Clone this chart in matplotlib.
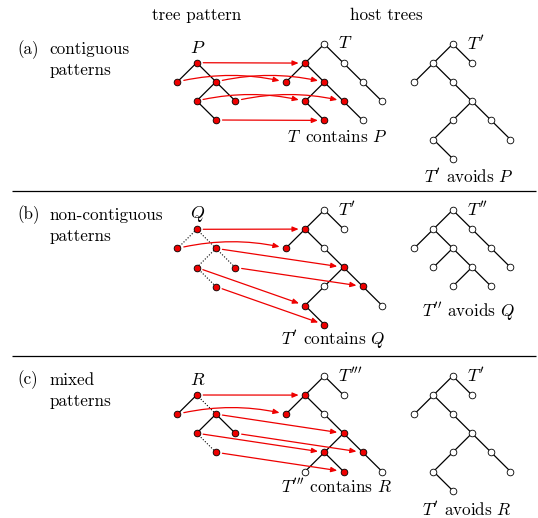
import matplotlib
matplotlib.use('Agg')
import matplotlib.pyplot as plt
from matplotlib.patches import FancyArrowPatch, ArrowStyle

plt.rcParams['mathtext.fontset'] = 'cm'
plt.rcParams['font.family'] = ['cmr10', 'DejaVu Serif']
plt.rcParams['axes.unicode_minus'] = False

# ---------------- data: tree structures ----------------
# pattern shape (shared by P, Q, R): column offset, depth, parent
PAT_COLS = [0, -1, 1, 0, 2, 1]
PAT_ROWS = [0, 1, 1, 2, 2, 3]
PAT_PARENT = [None, 0, 0, 2, 2, 3]
P_DOTTED = [False, False, False, False, False, False]
Q_DOTTED = [False, True, True, True, True, True]
R_DOTTED = [False, False, True, False, False, True]

# host tree T
T_COLS = [0, -1, 1, -2, 0, 2, -1, 1, 3, 0, 2]
T_ROWS = [0, 1, 1, 2, 2, 2, 3, 3, 3, 4, 4]
T_PARENT = [None, 0, 0, 1, 1, 2, 4, 4, 5, 6, 7]
# host tree T'
T1_COLS = [0, -1, 1, -2, 0, 1, 0, 2, -1, 3, 0]
T1_ROWS = [0, 1, 1, 2, 2, 3, 4, 4, 5, 5, 6]
T1_PARENT = [None, 0, 0, 1, 1, 4, 5, 5, 6, 7, 8]
# host tree T''
T2_COLS = [0, -1, 1, -2, 0, 2, -1, 1, 3, 0, 2]
T2_ROWS = [0, 1, 1, 2, 2, 2, 3, 3, 3, 4, 4]
T2_PARENT = [None, 0, 0, 1, 1, 2, 4, 4, 5, 7, 7]
# host tree T'''
T3_COLS = [0, -1, 1, -2, 0, 1, 0, 2, -1, 1, 3]
T3_ROWS = [0, 1, 1, 2, 2, 3, 4, 4, 5, 5, 5]
T3_PARENT = [None, 0, 0, 1, 1, 4, 5, 5, 6, 6, 7]

# embeddings: pattern node i -> host node MAP[i]; BEND: curved arrow?
MAP_A = [1, 3, 4, 6, 7, 9]
BEND_A = [False, True, True, True, True, False]
MAP_B = [1, 3, 5, 8, 7, 10]
BEND_B = [False, True, False, False, False, False]
MAP_C = [1, 3, 5, 6, 7, 9]
BEND_C = [False, True, False, False, False, False]

# text
HEADERS = ["tree pattern", "host trees"]
ROW_TAGS = ["(a)", "(b)", "(c)"]
ROW_NAMES = [["contiguous", "patterns"], ["non-contiguous", "patterns"], ["mixed", "patterns"]]
PAT_NAMES = [r"$P$", r"$Q$", r"$R$"]
HOST_NAMES = [r"$T$", r"$T'$", r"$T'''$"]
HOST_CAPTIONS = [r"$T\,$ contains $P$", r"$T'$ contains $Q$", r"$T'''$ contains $R$"]
OTHER_NAMES = [r"$T'$", r"$T''$", r"$T'$"]
OTHER_CAPTIONS = [r"$T'$ avoids $P$", r"$T''$ avoids $Q$", r"$T'$ avoids $R$"]

# ---------------- layout ----------------
W, H = 538, 518
DX, DY = 19.25, 19.1
PAT_X, HOST_X, OTHER_X = 196.7, 324.3, 452.7
PAT_Y = [62.7, 229.3, 395.0]
HOST_Y = [44.0, 210.0, 376.0]
FS = 12.3
RED = '#ee0000'

fig = plt.figure(figsize=(W / 100, H / 100), dpi=100)
ax = fig.add_axes([0, 0, 1, 1])
ax.set_xlim(0, W)
ax.set_ylim(H, 0)
ax.axis('off')


def positions(cols, rows, x0, y0):
    return [(x0 + c * DX, y0 + r * DY) for c, r in zip(cols, rows)]


def draw_tree(pos, parent, red, dotted=None):
    for i, p in enumerate(parent):
        if p is None:
            continue
        ls = (0, (1, 1.6)) if (dotted and dotted[i]) else '-'
        lw = 0.8 if (dotted and dotted[i]) else 0.9
        ax.plot([pos[p][0], pos[i][0]], [pos[p][1], pos[i][1]], color='black',
                lw=lw, ls=ls, zorder=1, solid_capstyle='butt')
    for i, (x, y) in enumerate(pos):
        ax.plot([x], [y], 'o', ms=4.8, mfc=RED if red[i] else 'white',
                mec='black', mew=0.6, zorder=3)


def draw_arrows(ppos, hpos, mapping, bend):
    style = ArrowStyle('-|>', head_length=3.6, head_width=1.5)
    for i, j in enumerate(mapping):
        rad = -0.12 if bend[i] else 0.0
        a = FancyArrowPatch(ppos[i], hpos[j], arrowstyle=style,
                            connectionstyle=f'arc3,rad={rad}',
                            shrinkA=4.7, shrinkB=4.6, color=RED, lw=0.9,
                            zorder=2)
        ax.add_patch(a)


host_specs = [(T_COLS, T_ROWS, T_PARENT), (T1_COLS, T1_ROWS, T1_PARENT),
              (T3_COLS, T3_ROWS, T3_PARENT)]
other_specs = [(T1_COLS, T1_ROWS, T1_PARENT), (T2_COLS, T2_ROWS, T2_PARENT),
               (T1_COLS, T1_ROWS, T1_PARENT)]
dotted_specs = [P_DOTTED, Q_DOTTED, R_DOTTED]
maps = [MAP_A, MAP_B, MAP_C]
bends = [BEND_A, BEND_B, BEND_C]
host_cap_pos = [(337.5, 137.3), (333.0, 340.0), (336.7, 486.7)]
other_cap_pos = [(469.0, 176.7), (468.0, 311.7), (466.7, 509.5)]
tag_y = [49.3, 215.0, 380.0]

for k in range(3):
    ppos = positions(PAT_COLS, PAT_ROWS, PAT_X, PAT_Y[k])
    draw_tree(ppos, PAT_PARENT, [True] * 6, dotted_specs[k])
    hc, hr, hp = host_specs[k]
    hpos = positions(hc, hr, HOST_X, HOST_Y[k])
    hred = [j in maps[k] for j in range(len(hc))]
    draw_tree(hpos, hp, hred)
    draw_arrows(ppos, hpos, maps[k], bends[k])
    oc, orow, op = other_specs[k]
    opos = positions(oc, orow, OTHER_X, HOST_Y[k])
    draw_tree(opos, op, [False] * len(oc))

    # labels
    ax.text(PAT_X + 0.8, PAT_Y[k] - 15, PAT_NAMES[k], fontsize=FS + 0.5,
            ha='center', va='center')
    ax.text(HOST_X + 14, HOST_Y[k] - 1, HOST_NAMES[k], fontsize=FS + 0.5,
            ha='left', va='center')
    ax.text(OTHER_X + 14, HOST_Y[k] - 1, OTHER_NAMES[k], fontsize=FS + 0.5,
            ha='left', va='center')
    ax.text(*host_cap_pos[k], HOST_CAPTIONS[k], fontsize=FS, ha='center', va='center')
    ax.text(*other_cap_pos[k], OTHER_CAPTIONS[k], fontsize=FS, ha='center', va='center')
    ax.text(17.3, tag_y[k], ROW_TAGS[k], fontsize=FS, ha='left', va='center')
    ax.text(49.3, tag_y[k], ROW_NAMES[k][0], fontsize=FS, ha='left', va='center')
    ax.text(49.3, tag_y[k] + 21, ROW_NAMES[k][1], fontsize=FS, ha='left', va='center')

ax.text(196.7, 15, HEADERS[0], fontsize=FS, ha='center', va='center')
ax.text(386.7, 15, HEADERS[1], fontsize=FS, ha='center', va='center')

for y in (191, 356):
    ax.plot([12, 536], [y, y], color='black', lw=0.9, solid_capstyle='butt')

fig.savefig('out.png', dpi=100)
